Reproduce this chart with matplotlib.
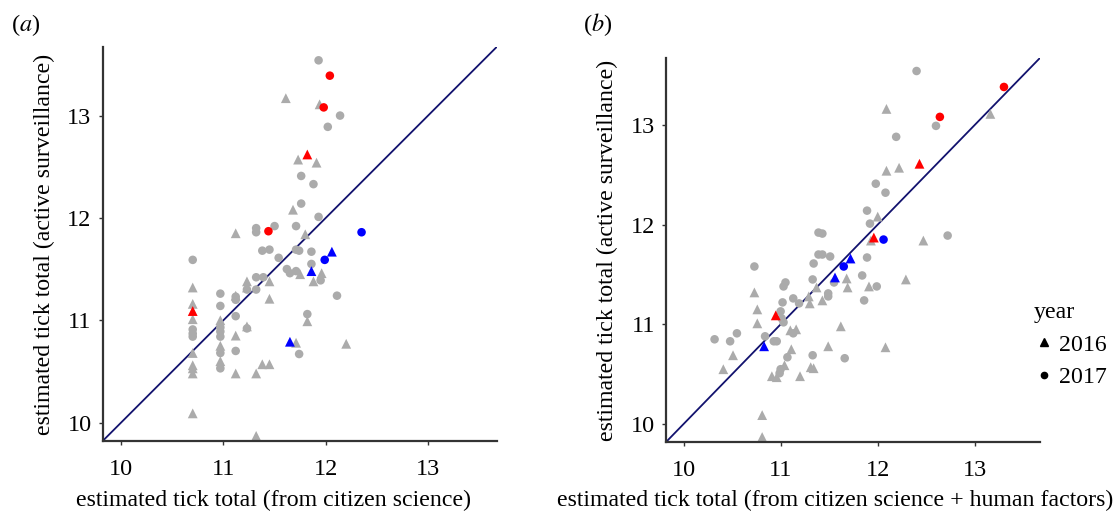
import matplotlib
matplotlib.use("Agg")
import matplotlib.pyplot as plt
from matplotlib.lines import Line2D

plt.rcParams['font.family'] = ['Liberation Serif', 'DejaVu Serif']
plt.rcParams['mathtext.fontset'] = 'stix'

# ----------------------------
# Data
# ----------------------------

# panel (a): citizen science estimate vs active surveillance
a_other_2017_x = [11.93, 12.14, 12.02, 11.76, 11.88, 11.76, 11.93, 11.50, 11.71, 11.32, 11.32, 11.38,
                  11.45, 11.71, 11.74, 11.86, 11.54, 11.86, 11.62, 11.65, 11.71, 11.95, 11.32, 11.39,
                  11.32, 11.23, 10.97, 11.12, 11.12, 12.11, 10.70, 10.70, 10.70, 10.70, 10.97, 10.97,
                  10.97, 10.97, 10.97, 10.97, 11.12, 11.12, 11.23, 11.82, 11.74]
a_other_2017_y = [13.54, 13.00, 12.89, 12.41, 12.33, 12.14, 12.01, 11.92, 11.92, 11.90, 11.86, 11.68,
                  11.69, 11.69, 11.68, 11.67, 11.61, 11.55, 11.50, 11.46, 11.48, 11.39, 11.42, 11.42,
                  11.30, 11.30, 11.26, 11.23, 11.20, 11.24, 11.59, 10.91, 10.87, 10.84, 11.14, 10.93,
                  10.89, 10.84, 10.68, 10.53, 11.04, 10.70, 10.92, 11.06, 10.67]
a_other_2016_x = [11.61, 11.94, 11.73, 11.91, 11.68, 11.12, 11.80, 11.75, 11.96, 11.88, 11.23, 11.45,
                  11.23, 11.12, 11.45, 10.70, 10.70, 10.70, 10.70, 10.70, 10.70, 10.70, 10.70, 10.97,
                  10.97, 10.97, 11.12, 11.12, 11.23, 11.32, 11.38, 11.45, 11.32, 11.82, 11.71, 12.20]
a_other_2016_y = [13.17, 13.11, 12.57, 12.54, 12.08, 11.85, 11.84, 11.45, 11.46, 11.38, 11.38, 11.38,
                  11.32, 11.24, 11.21, 11.32, 11.16, 11.01, 10.68, 10.56, 10.53, 10.48, 10.09, 11.00,
                  10.75, 10.60, 10.85, 10.48, 10.94, 10.48, 10.57, 10.57, 9.87, 10.99, 10.78, 10.77]
a_red_2017_x = [12.04, 11.98, 11.44]
a_red_2017_y = [13.39, 13.08, 11.87]
a_red_2016_x = [11.82, 10.70]
a_red_2016_y = [12.62, 11.09]
a_blue_2017_x = [12.35, 11.99]
a_blue_2017_y = [11.86, 11.59]
a_blue_2016_x = [12.06, 11.86, 11.65]
a_blue_2016_y = [11.67, 11.48, 10.79]

# panel (b): citizen science + human factors vs active surveillance
b_other_2017_x = [12.40, 12.60, 12.19, 12.08, 12.72, 11.98, 11.89, 11.92, 11.39, 11.43, 11.39, 11.43,
                  11.51, 11.89, 11.34, 10.73, 11.05, 11.03, 11.33, 11.84, 11.99, 11.55, 11.49, 11.49,
                  11.86, 11.13, 11.19, 11.02, 11.00, 11.01, 11.03, 11.13, 10.32, 10.48, 10.55, 10.84,
                  10.96, 10.93, 11.07, 11.33, 11.66, 11.00, 10.99]
b_other_2017_y = [13.54, 12.99, 12.88, 12.32, 11.89, 12.41, 12.14, 12.01, 11.92, 11.91, 11.70, 11.70,
                  11.68, 11.67, 11.61, 11.58, 11.42, 11.38, 11.45, 11.49, 11.38, 11.42, 11.31, 11.28,
                  11.24, 11.26, 11.21, 11.22, 11.13, 11.06, 11.02, 10.91, 10.85, 10.83, 10.91, 10.88,
                  10.83, 10.83, 10.67, 10.69, 10.66, 10.55, 10.51]
b_other_2016_x = [12.09, 13.16, 12.09, 12.22, 12.47, 12.29, 12.00, 11.93, 11.68, 11.91, 10.73, 11.37,
                  11.69, 11.29, 11.43, 11.30, 10.76, 10.76, 11.10, 11.16, 11.62, 11.49, 12.08, 11.11,
                  10.51, 10.41, 11.04, 11.31, 11.34, 10.91, 10.96, 11.20, 10.81, 10.81]
b_other_2016_y = [13.16, 13.11, 12.54, 12.57, 11.84, 11.45, 12.08, 11.84, 11.46, 11.38, 11.32, 11.37,
                  11.37, 11.28, 11.24, 11.21, 11.15, 11.01, 10.94, 10.95, 10.98, 10.78, 10.77, 10.75,
                  10.69, 10.55, 10.59, 10.57, 10.56, 10.48, 10.47, 10.48, 10.09, 9.87]
b_red_2017_x = [13.30, 12.64]
b_red_2017_y = [13.38, 13.08]
b_red_2016_x = [12.43, 11.96, 10.95]
b_red_2016_y = [12.61, 11.87, 11.09]
b_blue_2017_x = [12.06, 11.65]
b_blue_2017_y = [11.85, 11.58]
b_blue_2016_x = [11.72, 11.56, 10.83]
b_blue_2016_y = [11.66, 11.47, 10.78]

ticks = [10, 11, 12, 13]
lims = (9.82, 13.67)

GREY = '#ababab'
RED = '#ff0000'
BLUE = '#0000ff'
LINE = '#12126e'
AXC = '#333333'
FS = 17.5      # tick labels
FSL = 17.2     # axis labels


def draw_panel(ax, groups, xlabel, xlabel_pos):
    # 1:1 line first, points on top
    ax.plot(lims, lims, color=LINE, lw=1.3, zorder=1)
    for x, y, c, m in groups:
        ax.scatter(x, y, s=50 if m == '^' else 38, marker=m, color=c,
                   edgecolors='none', zorder=2, clip_on=False)
    ax.set_xlim(lims)
    ax.set_ylim(lims)
    ax.set_xticks(ticks)
    ax.set_yticks(ticks)
    ax.spines['top'].set_visible(False)
    ax.spines['right'].set_visible(False)
    for s in ('left', 'bottom'):
        ax.spines[s].set_color(AXC)
        ax.spines[s].set_linewidth(1.6)
    ax.tick_params(length=3, width=1, color=AXC, labelsize=FS, labelcolor='black')
    ax.tick_params(axis='x', pad=10)
    ax.tick_params(axis='y', pad=5)
    ax.set_xlabel(xlabel, fontsize=FSL)
    ax.xaxis.set_label_coords(xlabel_pos, -0.125)
    ax.set_ylabel('estimated tick total (active surveillance)', fontsize=FSL, labelpad=9)


fig = plt.figure(figsize=(11.16, 5.15), dpi=100)

ax_a = fig.add_axes([0.092, 0.1437, 0.353, 0.765])
draw_panel(ax_a, [
    (a_other_2017_x, a_other_2017_y, GREY, 'o'),
    (a_other_2016_x, a_other_2016_y, GREY, '^'),
    (a_red_2017_x, a_red_2017_y, RED, 'o'),
    (a_red_2016_x, a_red_2016_y, RED, '^'),
    (a_blue_2017_x, a_blue_2017_y, BLUE, 'o'),
    (a_blue_2016_x, a_blue_2016_y, BLUE, '^'),
], 'estimated tick total (from citizen science)', 0.433)

ax_b = fig.add_axes([0.5968, 0.1417, 0.335, 0.7456])
draw_panel(ax_b, [
    (b_other_2017_x, b_other_2017_y, GREY, 'o'),
    (b_other_2016_x, b_other_2016_y, GREY, '^'),
    (b_red_2017_x, b_red_2017_y, RED, 'o'),
    (b_red_2016_x, b_red_2016_y, RED, '^'),
    (b_blue_2017_x, b_blue_2017_y, BLUE, 'o'),
    (b_blue_2016_x, b_blue_2016_y, BLUE, '^'),
], 'estimated tick total (from citizen science + human factors)', 0.452)

fig.text(0.010, 0.952, r'($\it{a}$)', fontsize=17.5, va='center')
fig.text(0.522, 0.952, r'($\it{b}$)', fontsize=17.5, va='center')

# ----------------------------
# Legend
# ----------------------------
handles = [
    Line2D([], [], marker='^', ls='none', color='black', markersize=6),
    Line2D([], [], marker='o', ls='none', color='black', markersize=4.5),
]
leg = fig.legend(handles, ['2016', '2017'], title='year', loc='upper left',
                 bbox_to_anchor=(0.918, 0.432), frameon=False, fontsize=FSL,
                 title_fontsize=FSL, labelspacing=0.45, handletextpad=0.25,
                 handlelength=0.8, borderaxespad=0)
leg._legend_box.align = 'left'

fig.savefig('out.png', dpi=100)
